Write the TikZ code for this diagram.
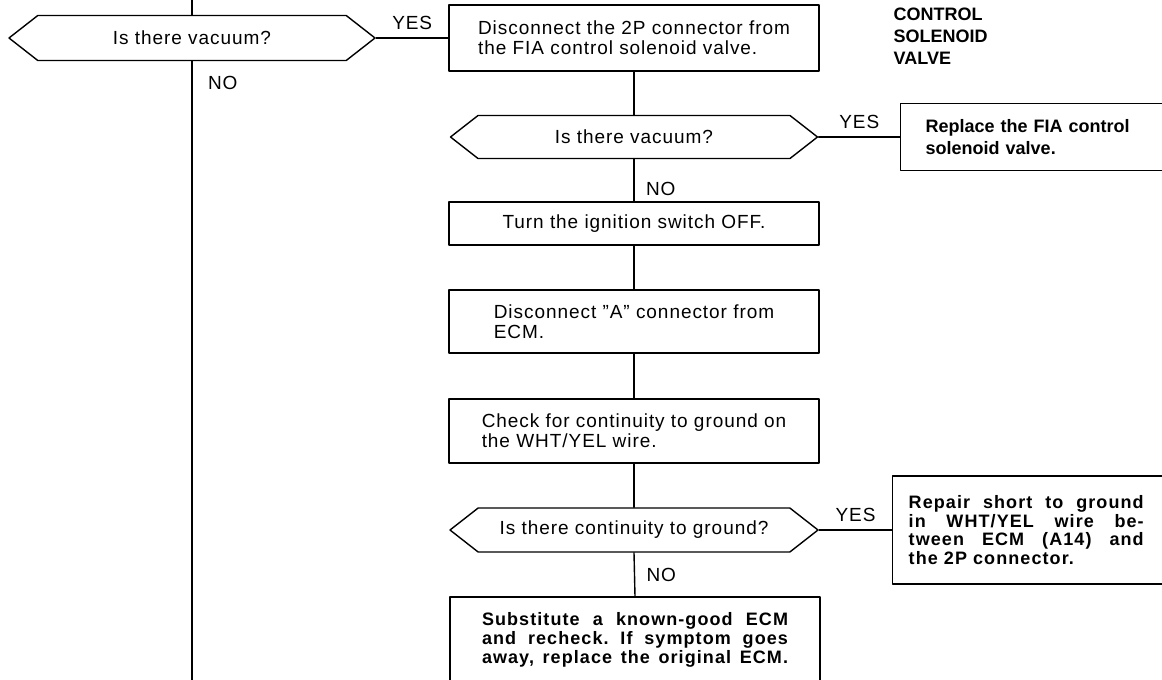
\documentclass[tikz,border=0pt]{standalone}
\usepackage{fontspec}
\setmainfont{Liberation Sans}[LetterSpace=5, BoldFeatures={LetterSpace=0}]
\newfontfamily\damgian{Liberation Sans Bold}[LetterSpace=6]
\usetikzlibrary{shapes.symbols}
\frenchspacing

\begin{document}
\begin{tikzpicture}[x=1pt, y=-1pt, line cap=round, line join=round, line width=1.4pt,
	font=\fontsize{19}{20}\selectfont,
	khung/.style={draw, rectangle, minimum width=370pt, align=left, inner sep=0pt},
	hoi/.style={draw, shape=signal, signal to=east and west, signal pointer angle=76,
		minimum width=367pt, inner sep=0pt},
	mo/.style={draw, rectangle, anchor=west, align=left, inner ysep=0pt,
		font=\fontsize{18}{18.5}\selectfont\bfseries},
	nhan/.style={above=4pt}]
	
	\useasboundingbox (0,0) rectangle (1162,680);
	\clip (0,0) rectangle (1162,680);
	
	% Các ô câu hỏi
	\node[hoi, minimum height=45pt, minimum width=366pt] (h1) at (192,38) {Is there vacuum?};
	\node[hoi, minimum height=43pt] (h2) at (634,137) {Is there vacuum?};
	\node[hoi, minimum height=44pt, minimum width=368pt] (h3) at (634,530) {Is there continuity to ground?};
	
	% Các ô thao tác
	\node[khung, minimum height=66pt] (b1) at (634,38)
	{Disconnect the 2P connector from\\the FIA control solenoid valve.};
	\node[khung, minimum height=43pt] (t1) at (634,223.5) {Turn the ignition switch OFF.};
	\node[khung, minimum height=63pt] (d1) at (634,321.5) {Disconnect ''A'' connector from\\ECM.};
	\node[khung, minimum height=64pt] (c1) at (634,431)
	{Check for continuity to ground on\\the WHT/YEL wire.};
	\node[khung, minimum height=86pt, font=\damgian\fontsize{18}{19}\selectfont] (s1) at (635,640)
	{\parbox{306pt}{\parfillskip=0pt Substitute a known-good ECM\linebreak and recheck. If symptom goes\linebreak away, replace the original ECM.}};
	
	% Các ô kết luận (bị cắt bên phải)
	\node[mo, minimum height=67pt, inner xsep=25pt, text width=290pt,
	font=\fontsize{18}{22}\selectfont\bfseries] (r1) at (900,137) {Replace the FIA control\\solenoid valve.};
	\node[mo, minimum height=108pt, inner xsep=16pt, font=\damgian\fontsize{18}{18.5}\selectfont] (r2) at (892,530)
	{\parbox{235pt}{Repair short to ground\linebreak in WHT/YEL wire be-\linebreak tween ECM (A14) and\linebreak the 2P connector.}\hspace{40pt}};
	
	% Tiêu đề
	\node[anchor=north west, inner sep=0pt, align=left, font=\fontsize{18}{22}\selectfont\bfseries]
	(tieude) at (893,7) {CONTROL\\SOLENOID\\VALVE};
	
	% Đường nối
	\coordinate (dau) at (192,-5);
	\coordinate (cuoi) at (192,690);
	\draw (dau) -- (h1.north);
	\draw (h1.south) -- node[pos=.035, right=12pt] {NO} (cuoi);
	\draw (h1.east) -- node[nhan] {YES} (b1.west);
	\draw (b1.south) -- (h2.north);
	\draw (h2.east) -- node[nhan] {YES} (r1.west);
	\draw (h2.south) -- node[pos=.7, right=8pt] {NO} (t1.north);
	\draw (t1.south) -- (d1.north);
	\draw (d1.south) -- (c1.north);
	\draw (c1.south) -- (h3.north);
	\draw (h3.east) -- node[nhan] {YES} (r2.west);
	\draw (h3.south) -- node[right=8pt] {NO} (s1.north);
	
\end{tikzpicture}
\end{document}
